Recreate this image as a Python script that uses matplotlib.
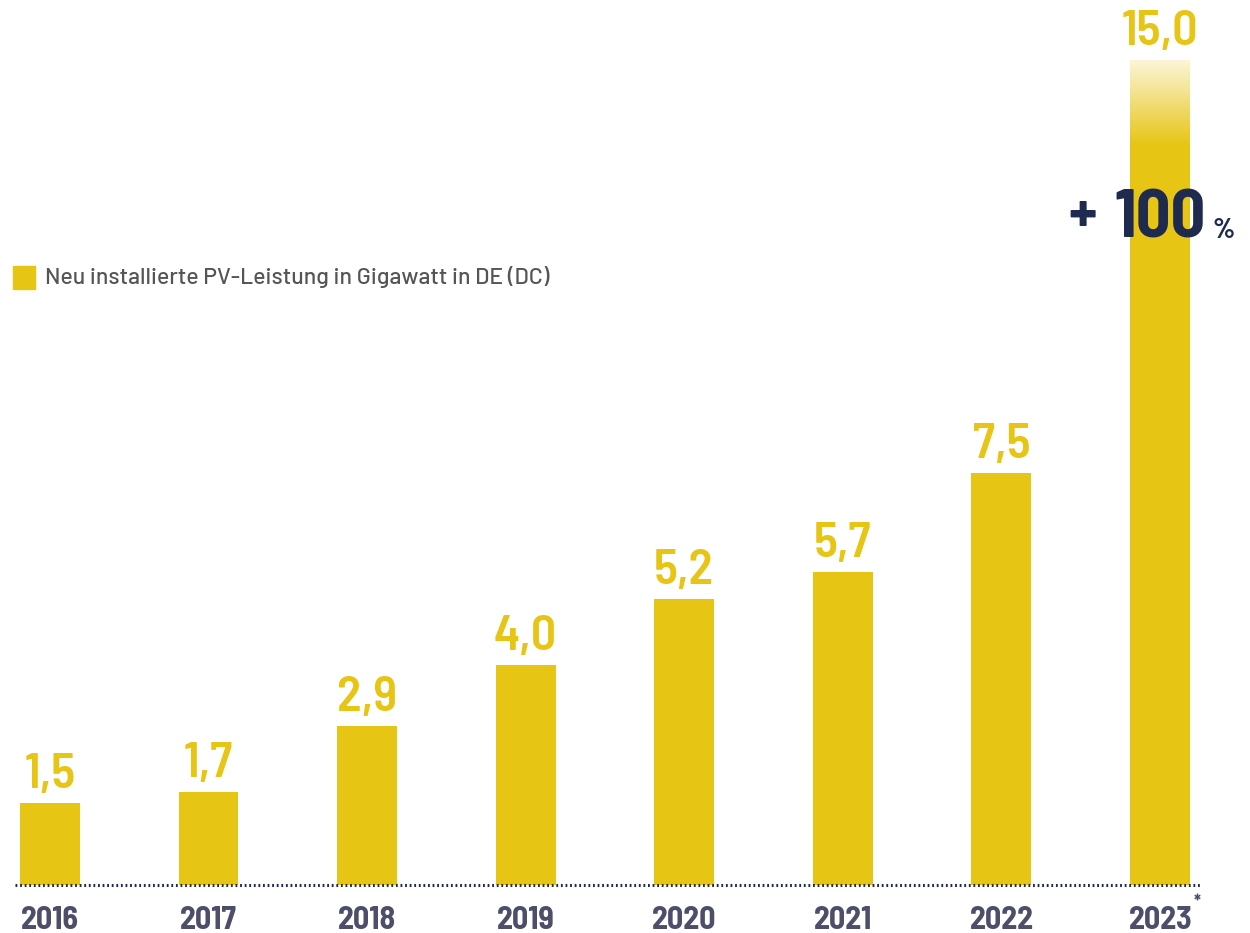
import numpy as np
import matplotlib.pyplot as plt
from matplotlib.colors import LinearSegmentedColormap

years = ['2016', '2017', '2018', '2019', '2020', '2021', '2022', '2023']
values = [1.5, 1.7, 2.9, 4.0, 5.2, 5.7, 7.5, 15.0]
labels = ['1,5', '1,7', '2,9', '4,0', '5,2', '5,7', '7,5', '15,0']

YELLOW = '#E7C515'
NAVY = '#1F2B4E'
GREY = '#4C4E6A'

COND = ['Barlow Semi Condensed', 'Barlow Condensed', 'Roboto', 'DejaVu Sans']
WIDE = ['Barlow', 'Roboto', 'DejaVu Sans']
plt.rcParams['font.family'] = COND

fig = plt.figure(figsize=(12.5, 9.33), dpi=100)
ax = fig.add_axes([0, 1 - 885 / 933, 1, 885 / 933])

x = np.arange(len(years))
w = 0.378
ax.bar(x, values, width=w, color=YELLOW, zorder=2)

# fade at the top of the 2023 bar
grad = np.linspace(0, 1, 256).reshape(-1, 1)
cmap = LinearSegmentedColormap.from_list('fade', [(1, 1, 1, 0), (1, 1, 1, 0.85)])
ax.imshow(grad, cmap=cmap, origin='lower', aspect='auto', zorder=3,
          extent=[x[-1] - w / 2, x[-1] + w / 2, values[-1] - 1.55, values[-1]])
ax.set_xlim(-0.315, 7.568)
ax.set_ylim(0, 885 / 55)
ax.axis('off')

for xi, v, lab in zip(x, values, labels):
    ax.text(xi, v + 0.27, lab, ha='center', va='baseline', color=YELLOW,
            fontsize=36, fontweight='semibold', zorder=4)

# dotted baseline
ax.plot([-0.22, 7.25], [0, 0], color=NAVY, lw=2.2, ls=(0, (0.6, 0.9)),
        clip_on=False, zorder=4)

# year labels
for xi, yr in zip(x, years):
    fig.text(50 / 1250 + xi * 158.6 / 1250, 1 - 929 / 933, yr, ha='center',
             va='baseline', color=GREY, fontsize=23, fontweight='bold')
fig.text(1194 / 1250, 1 - 903 / 933, '*', ha='left', va='center', color=GREY,
         fontsize=13, fontweight='bold')

# legend
fig.patches.append(plt.Rectangle((13 / 1250, 1 - 289 / 933), 22 / 1250, 23 / 933,
                                 transform=fig.transFigure, color=YELLOW))
fig.text(45 / 1250, 1 - 277 / 933, 'Neu installierte PV-Leistung in Gigawatt in DE (DC)',
         ha='left', va='center', color='#555555', fontsize=16.6, fontweight='medium',
         family=WIDE)

# +100 %
fig.text(1068 / 1250, 1 - 217 / 933, '+', ha='left', va='center', color=NAVY,
         fontsize=44, fontweight='bold')
fig.text(1114 / 1250, 1 - 238 / 933, '100', ha='left', va='baseline', color=NAVY,
         fontsize=49, fontweight='bold')
fig.text(1213 / 1250, 1 - 238 / 933, '%', ha='left', va='baseline', color=NAVY,
         fontsize=20, fontweight='bold')

fig.savefig('out.png', dpi=100)
